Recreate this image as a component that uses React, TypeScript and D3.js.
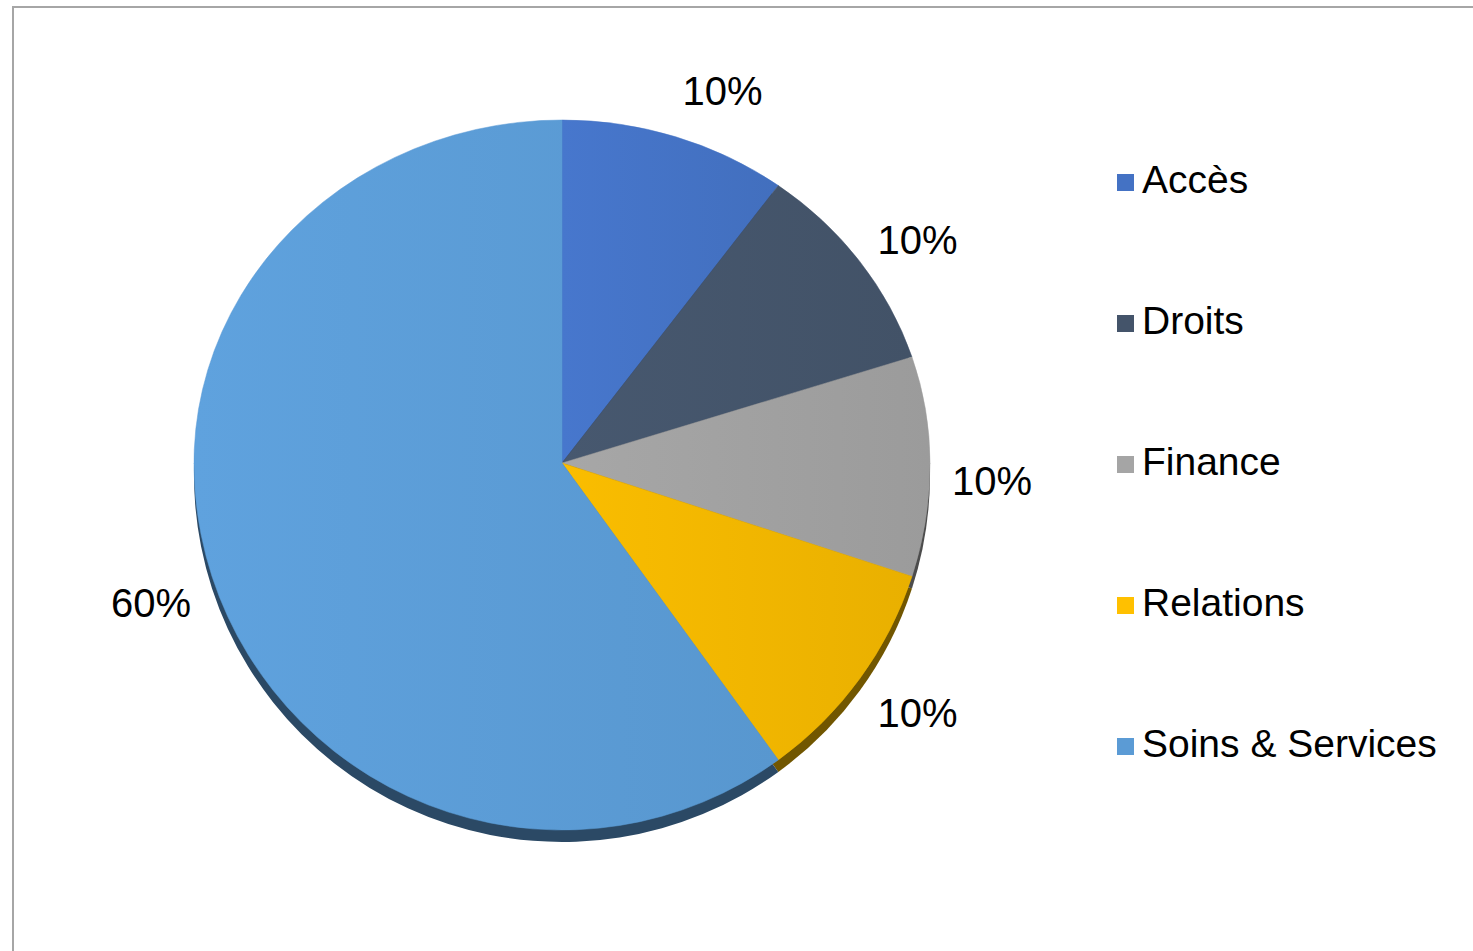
import React from "react";
import * as d3 from "d3";

const categories = ["Accès", "Droits", "Finance", "Relations", "Soins & Services"];
const values = [10, 10, 10, 10, 60];
const labels = ["10%", "10%", "10%", "10%", "60%"];
const colors = ["#4472c4", "#44546a", "#a0a0a0", "#f0b500", "#5b9bd5"];
const legendColors = ["#4472c4", "#44546a", "#a5a5a5", "#ffc000", "#5b9bd5"];

const W = 1473;
const H = 951;
const cx = 562;
const cy = 463;
const rx = 368;
const ryTop = 343;
const ryBottom = 367;
const R = 350;
const depth = 12;
const font = "'Liberation Sans', Arial, Helvetica, sans-serif";

export default function App() {
  const pie = d3.pie<number>().sort(null).value((d) => d).startAngle(0).endAngle(2 * Math.PI);
  const arcs = pie(values);
  const arc = d3.arc<d3.PieArcDatum<number>>().innerRadius(0).outerRadius(R);
  const sx = rx / R;

  const lx = 430;
  const lxNudge = 40;
  const lyTop = 410;
  const lyBottom = 395;
  const ldy = 18;
  const labelPos = arcs.map((a) => {
    const m = (a.startAngle + a.endAngle) / 2;
    const s = Math.sin(m);
    const c = Math.cos(m);
    return [
      cx + s * lx + Math.sign(s) * lxNudge * (1 - Math.abs(s)),
      cy - c * (c > 0 ? lyTop : lyBottom) + ldy,
    ];
  });

  const legendX = 1117;
  const legendY0 = 193;
  const legendStep = 141;

  const halves = [
    { clip: "clipTop", sy: ryTop / R },
    { clip: "clipBottom", sy: ryBottom / R },
  ];

  return (
    <svg
      width={W}
      height={H}
      style={{ position: "absolute", left: 0, top: 0, background: "#fff" }}
      fontFamily={font}
    >
      <defs>
        {colors.map((c, i) => (
          <linearGradient key={i} id={`g${i}`} x1="0" y1="0" x2="1" y2="0" gradientUnits="objectBoundingBox">
            <stop offset="0%" stopColor={d3.color(c)!.brighter(0.12).formatHex()} />
            <stop offset="100%" stopColor={d3.color(c)!.darker(0.08).formatHex()} />
          </linearGradient>
        ))}
        <clipPath id="clipTop">
          <rect x={-1000} y={-1000} width={2000} height={1000.8} />
        </clipPath>
        <clipPath id="clipBottom">
          <rect x={-1000} y={0} width={2000} height={1000} />
        </clipPath>
      </defs>
      <rect x={13} y={7} width={1600} height={1100} fill="#fff" stroke="#a6a6a6" strokeWidth={2} />

      {halves.map((h) => (
        <g key={"s" + h.clip} transform={`translate(${cx},${cy + depth}) scale(${sx},${h.sy})`} clipPath={`url(#${h.clip})`}>
          {arcs.map((a, i) => (
            <path key={i} d={arc(a) || ""} fill={d3.color(colors[i])!.darker(2.1).formatHex()} />
          ))}
        </g>
      ))}
      {halves.map((h) => (
        <g key={"f" + h.clip} transform={`translate(${cx},${cy}) scale(${sx},${h.sy})`} clipPath={`url(#${h.clip})`}>
          {arcs.map((a, i) => (
            <path key={i} d={arc(a) || ""} fill={`url(#g${i})`} stroke={colors[i]} strokeWidth={0.5} />
          ))}
        </g>
      ))}

      {labels.map((t, i) => (
        <text
          key={i}
          x={labelPos[i][0]}
          y={labelPos[i][1]}
          textAnchor="middle"
          dominantBaseline="central"
          fontSize={40}
          fill="#000"
        >
          {t}
        </text>
      ))}

      {categories.map((c, i) => (
        <g key={c} transform={`translate(${legendX},${legendY0 + i * legendStep})`}>
          <rect x={0} y={-19} width={17} height={17} fill={legendColors[i]} />
          <text x={25} y={0} fontSize={39} fill="#000">
            {c}
          </text>
        </g>
      ))}
    </svg>
  );
}
